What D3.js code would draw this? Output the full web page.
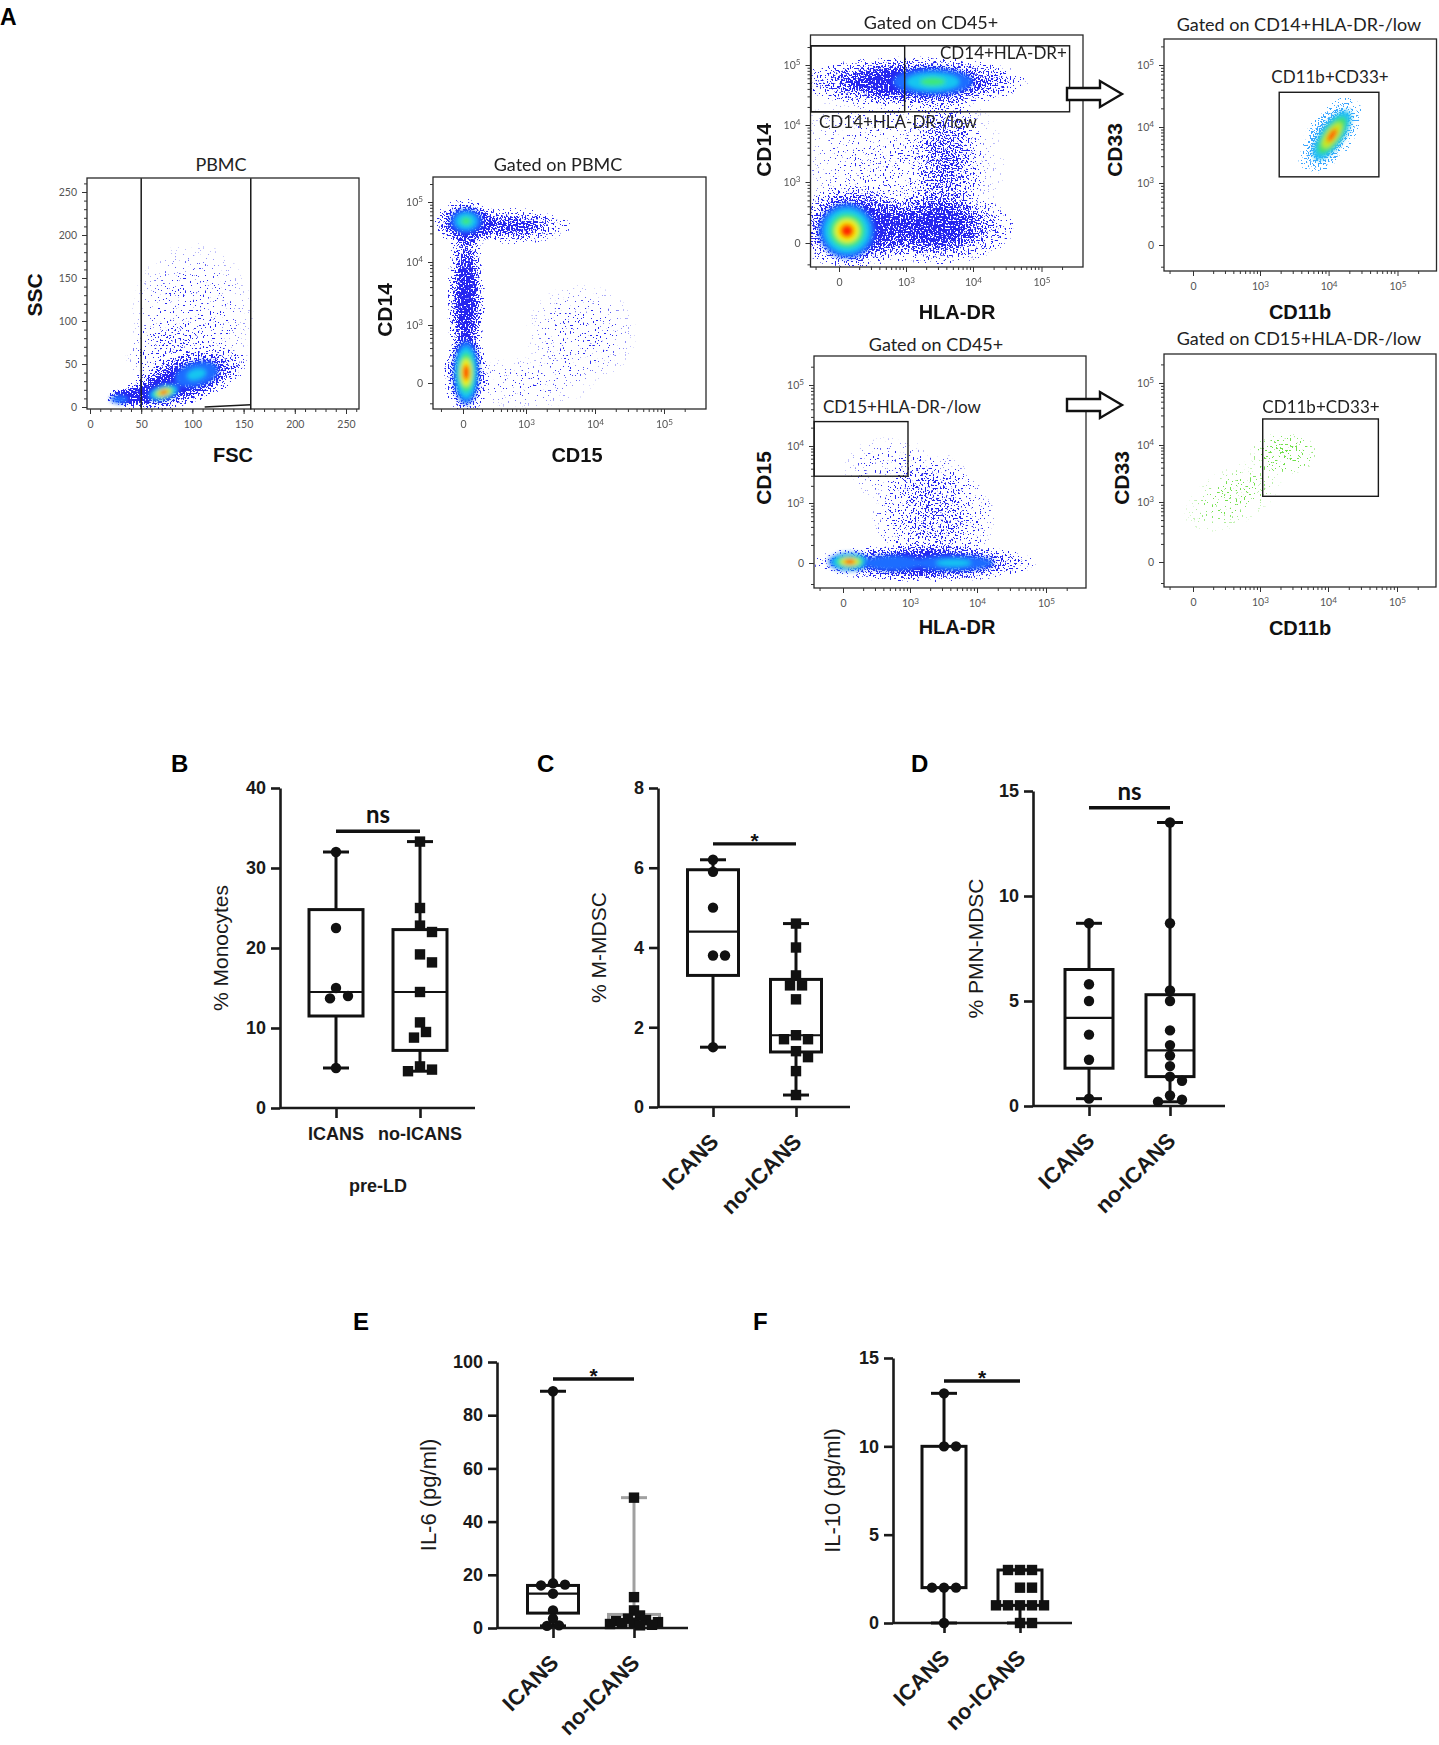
<!DOCTYPE html>
<html>
<head>
<meta charset="utf-8">
<title>MDSC gating and ICANS</title>
<script src="https://cdn.jsdelivr.net/npm/d3@7"></script>
<style>
  body { margin: 0; background: #fff; }
  svg { display: block; }
  .sans { font-family: "Liberation Sans", Arial, sans-serif; }
  .lato { font-family: Lato, "Liberation Sans", sans-serif; }
  .faxis text { font-family: Lato, "Liberation Sans", sans-serif; font-size: 10.5px; fill: #555; }
  .faxis line { stroke: #333; stroke-width: 1; }
  .baxis text { font-family: "Liberation Sans", Arial, sans-serif; font-size: 18px; font-weight: bold; fill: #1a1a1a; }
  .baxis line, .baxis path { stroke: #1a1a1a; stroke-width: 2.6; }
</style>
</head>
<body>
<div id="fig"></div>
<script>
// ---------- data: box plots (B-F) ----------
var groups = ["ICANS", "no-ICANS"];

// B: % monocytes, pre-LD
var monoIcans = [32, 22.5, 15, 14, 13.7, 5];
var monoNoIcans = [33.3, 25, 22.8, 22, 19.2, 18.2, 14.5, 10.7, 9.5, 8.8, 5.2, 4.8, 4.6];
// box stats: min, q1, median, q3, max
var monoBoxIcans = [5, 11.5, 14.5, 24.8, 32];
var monoBoxNoIcans = [4.6, 7.2, 14.5, 22.3, 33.3];
var monoTicks = [0, 10, 20, 30, 40];

// C: % M-MDSC
var mmdscIcans = [6.2, 5.9, 5.0, 3.8, 3.8, 1.5];
var mmdscNoIcans = [4.6, 4.0, 3.3, 3.05, 3.05, 2.7, 1.8, 1.7, 1.7, 1.4, 1.25, 0.9, 0.3];
var mmdscBoxIcans = [1.5, 3.3, 4.4, 5.95, 6.2];
var mmdscBoxNoIcans = [0.3, 1.38, 1.8, 3.2, 4.6];
var mmdscTicks = [0, 2, 4, 6, 8];

// D: % PMN-MDSC
var pmnIcans = [8.7, 5.8, 5.0, 3.4, 2.2, 0.35];
var pmnNoIcans = [13.5, 8.7, 5.5, 5.0, 3.6, 2.9, 2.4, 1.9, 1.4, 1.2, 0.5, 0.3, 0.2];
var pmnBoxIcans = [0.35, 1.8, 4.2, 6.5, 8.7];
var pmnBoxNoIcans = [0.2, 1.4, 2.65, 5.3, 13.5];
var pmnTicks = [0, 5, 10, 15];

// E: IL-6 (pg/ml)
var il6Icans = [89, 16.8, 16.3, 16, 12.9, 6.6, 3.5, 1, 0.8];
var il6NoIcans = [49, 11.6, 6.6, 4.7, 3.5, 3, 2.6, 2.2, 2, 1.8, 1.5, 1.2, 1];
var il6BoxIcans = [0.8, 5.6, 12.9, 16, 89];
var il6BoxNoIcans = [1, 1.8, 2.6, 5.1, 49];
var il6Ticks = [0, 20, 40, 60, 80, 100];

// F: IL-10 (pg/ml)
var il10Icans = [13, 10, 10, 2, 2, 2, 0];
var il10NoIcans = [3, 3, 3, 2, 2, 1, 1, 1, 1, 1, 0, 0];
var il10BoxIcans = [0, 2, 2, 10, 13];
var il10BoxNoIcans = [0, 1, 1, 3, 3];
var il10Ticks = [0, 5, 10, 15];

// comparison bars: [height in axis units, label]
var sigB = [34.6, "ns"];
var sigC = [6.6, "*"];
var sigD = [14.2, "ns"];
var sigE = [93.6, "*"];
var sigF = [13.7, "*"];

// ---------- data: flow cytometry (A) ----------
var linTicks = [0, 50, 100, 150, 200, 250];
var logTicks = [0, 1, 2, 3];               // 0, 10^3, 10^4, 10^5 (display decades)
var logTickLabels = ["0", "10^3", "10^4", "10^5"];

// clouds: [x, y, spreadX, spreadY, tilt, density]   (axis units)
var pbmcClouds = [
  [90, 30, 66, 29, -18, 1],
  [100, 100, 60, 92, 0, 0.15],
  [80, 60, 45, 40, 0, 0.2],
  [34, 12, 19, 11, 0, 0.95],
  [56, 16, 30, 13, -10, 0.85]
];
// cores: [x, y, spreadX, spreadY, tilt, colour levels]
var pbmcCores = [
  [72, 17, 16, 9, -15, 5],
  [104, 38, 22, 14, -15, 2],
  [29, 9, 9, 5, 0, 1]
];

var cd14cd15Clouds = [
  [0.05, 2.65, 0.5, 0.4, 0, 1],
  [0.8, 2.6, 0.85, 0.3, 0, 0.7],
  [0.05, 1.4, 0.3, 1.35, 0, 0.95],
  [0.05, 0.15, 0.35, 0.7, 0, 1],
  [1.8, 0.85, 0.8, 0.8, 0, 0.14],
  [0.9, 0.0, 1.1, 0.45, 0, 0.1]
];
var cd14cd15Cores = [
  [0.05, 2.68, 0.25, 0.2, 0, 3],
  [0.05, 0.18, 0.2, 0.55, 0, 5]
];

var cd14drClouds = [
  [1.1, 2.72, 1.7, 0.42, 0, 1],
  [0.2, 0.25, 0.85, 0.7, 0, 1],
  [1.4, 0.25, 1.2, 0.6, 0, 0.85],
  [1.6, 1.4, 0.55, 1.25, 0, 0.48],
  [0.9, 1.3, 1.6, 1.5, 0, 0.15]
];
var cd14drCores = [
  [1.4, 2.72, 0.6, 0.22, 0, 3],
  [0.12, 0.2, 0.42, 0.45, 0, 5]
];
var cd14drGates = [[-0.42, 2.22, 3.41, 3.32], [-0.42, 2.22, 0.98, 3.32]];

var mMdscClouds = [[2.02, 1.85, 0.65, 0.38, -55, 0.9]];
var mMdscCores = [[2.05, 1.85, 0.42, 0.2, -55, 4]];
var mMdscGates = [[1.28, 1.11, 2.73, 2.56]];

var cd15drClouds = [
  [1.2, 0.0, 1.65, 0.32, 0, 1],
  [1.35, 0.75, 0.9, 0.9, 0, 0.4],
  [1.3, 1.4, 0.6, 0.5, 0, 0.2],
  [0.7, 1.6, 0.7, 0.55, 0, 0.14]
];
var cd15drCores = [
  [0.1, 0.02, 0.32, 0.15, 0, 5],
  [1.65, 0.0, 0.6, 0.13, 0, 2],
  [0.75, 0.0, 0.45, 0.13, 0, 1]
];
var cd15drGates = [[-0.43, 1.47, 0.97, 2.40]];

var pmnClouds = [
  [1.35, 1.85, 0.5, 0.35, 0, 0.24],
  [0.6, 1.1, 0.8, 0.5, -30, 0.12]
];
var pmnGates = [[1.04, 1.1, 2.73, 2.42]];

// ---------- drawing ----------
var W = 1439, H = 1745;
var svg = d3.select("#fig").append("svg").attr("width", W).attr("height", H);
var defs = svg.append("defs");

var grad = defs.append("radialGradient").attr("id", "cloudGrad");
[[0, 1], [0.35, 0.85], [0.7, 0.45], [1, 0.08]].forEach(function (s) {
  grad.append("stop").attr("offset", s[0]).attr("stop-color", "#fff").attr("stop-opacity", s[1]);
});

defs.append("filter").attr("id", "coreBlur")
  .attr("x", "-50%").attr("y", "-50%").attr("width", "200%").attr("height", "200%")
  .append("feGaussianBlur").attr("stdDeviation", 2.2);

// speckle filter: dots get sparser where the cloud is thin
function dotFilter(id, colour, freq, seed) {
  var f = defs.append("filter").attr("id", id).attr("filterUnits", "userSpaceOnUse")
    .attr("x", 0).attr("y", 0).attr("width", W).attr("height", 700);
  f.append("feTurbulence").attr("type", "fractalNoise").attr("baseFrequency", freq)
    .attr("numOctaves", 1).attr("seed", seed).attr("result", "noise");
  f.append("feColorMatrix").attr("in", "noise").attr("type", "matrix")
    .attr("values", "0 0 0 0 0  0 0 0 0 0  0 0 0 0 0  2.5 0 0 0 -0.75").attr("result", "na");
  f.append("feComposite").attr("in", "SourceAlpha").attr("in2", "na").attr("operator", "arithmetic")
    .attr("k1", 0).attr("k2", 12).attr("k3", 12).attr("k4", -12).attr("result", "mask");
  f.append("feFlood").attr("flood-color", colour).attr("result", "c");
  f.append("feComposite").attr("in", "c").attr("in2", "mask").attr("operator", "in");
}
dotFilter("dotsBlue", "#2626f0", 0.6, 3);
dotFilter("dotsCyan", "#3aa6ff", 0.6, 5);
dotFilter("dotsGreen", "#72e04c", 0.5, 8);

var bluePalette = ["#1f6dff", "#12c6f0", "#3ce878", "#f2f000", "#ff2a00"];
var cyanPalette = ["#22c0f4", "#3ce070", "#c8e81c", "#ff5a00"];

function supLabel(sel, labels) {
  sel.selectAll(".tick text").each(function (d, i) {
    var s = labels[i];
    var t = d3.select(this).text("");
    if (s.indexOf("^") > 0) {
      var parts = s.split("^");
      t.append("tspan").text(parts[0]);
      t.append("tspan").attr("dy", "-0.45em").attr("font-size", "78%").text(parts[1]);
    } else {
      t.text(s);
    }
  });
}

var clipCount = 0;
function flowPlot(p) {
  var g = svg.append("g");
  var x = d3.scaleLinear().domain(p.xd).range(p.xr);
  var y = d3.scaleLinear().domain(p.yd).range(p.yr);
  var f = p.frame;
  var cid = "clip" + (clipCount++);
  defs.append("clipPath").attr("id", cid).append("rect")
    .attr("x", f[0]).attr("y", f[1]).attr("width", f[2] - f[0]).attr("height", f[3] - f[1]);

  function place(d) {
    return "translate(" + x(d[0]) + "," + y(d[1]) + ") rotate(" + d[4] + ")";
  }
  function rx(d) { return Math.abs(x(d[0] + d[2]) - x(d[0])); }
  function ry(d) { return Math.abs(y(d[1] + d[3]) - y(d[1])); }

  var plot = g.append("g").attr("clip-path", "url(#" + cid + ")");
  plot.append("g").attr("filter", "url(#" + p.dots + ")")
    .selectAll("ellipse").data(p.clouds).join("ellipse")
    .attr("rx", rx).attr("ry", ry).attr("transform", place)
    .attr("fill", "url(#cloudGrad)").attr("fill-opacity", function (d) { return d[5]; });

  var coreG = plot.append("g").attr("filter", "url(#coreBlur)");
  (p.cores || []).forEach(function (c) {
    var n = c[5];
    for (var j = 0; j < n; j++) {
      var k = 1 - 0.85 * j / (n - 0.5);
      coreG.append("ellipse").attr("rx", rx(c) * k).attr("ry", ry(c) * k)
        .attr("transform", place(c)).attr("fill", p.palette[j]);
    }
  });

  g.append("rect").attr("x", f[0]).attr("y", f[1]).attr("width", f[2] - f[0]).attr("height", f[3] - f[1])
    .attr("fill", "none").attr("stroke", "#2a2a2a").attr("stroke-width", 1.3);

  var xa = g.append("g").attr("class", "faxis").attr("transform", "translate(0," + f[3] + ")")
    .call(d3.axisBottom(x).tickValues(p.xTicks).tickSize(5).tickPadding(7));
  xa.select(".domain").remove();
  var ya = g.append("g").attr("class", "faxis").attr("transform", "translate(" + f[0] + ",0)")
    .call(d3.axisLeft(y).tickValues(p.yTicks).tickSize(5).tickPadding(5));
  ya.select(".domain").remove();
  supLabel(xa, p.xLabels);
  supLabel(ya, p.yLabels);
  g.append("g").attr("class", "faxis").attr("transform", "translate(0," + f[3] + ")")
    .call(d3.axisBottom(x).tickValues(p.xMinor.filter(function (v) { return x(v) > f[0] && x(v) < f[2]; }))
      .tickSize(3).tickFormat("")).select(".domain").remove();
  g.append("g").attr("class", "faxis").attr("transform", "translate(" + f[0] + ",0)")
    .call(d3.axisLeft(y).tickValues(p.yMinor.filter(function (v) { return y(v) < f[3] && y(v) > f[1]; }))
      .tickSize(3).tickFormat("")).select(".domain").remove();

  (p.gates || []).forEach(function (r) {
    g.append("rect").attr("x", x(r[0])).attr("y", y(r[3]))
      .attr("width", x(r[2]) - x(r[0])).attr("height", y(r[1]) - y(r[3]))
      .attr("fill", "none").attr("stroke", "#1a1a1a").attr("stroke-width", 1.4);
  });
  (p.lines || []).forEach(function (l) {
    g.append("line").attr("x1", x(l[0])).attr("y1", y(l[1])).attr("x2", x(l[2])).attr("y2", y(l[3]))
      .attr("stroke", "#1a1a1a").attr("stroke-width", 1.5);
  });

  g.append("text").attr("class", "lato").attr("x", p.title[1]).attr("y", p.title[2])
    .attr("text-anchor", "middle").attr("font-size", 18).attr("fill", "#222").text(p.title[0]);
  g.append("text").attr("class", "sans").attr("x", p.xTitle[1]).attr("y", p.xTitle[2])
    .attr("text-anchor", "middle").attr("font-size", 20).attr("font-weight", "bold").attr("fill", "#111").text(p.xTitle[0]);
  g.append("text").attr("class", "sans").attr("transform", "translate(" + p.yTitle[1] + "," + p.yTitle[2] + ") rotate(-90)")
    .attr("text-anchor", "middle").attr("font-size", 21).attr("font-weight", "bold").attr("fill", "#111").text(p.yTitle[0]);
  (p.notes || []).forEach(function (n) {
    g.append("text").attr("class", "lato").attr("x", n[1]).attr("y", n[2]).attr("text-anchor", n[3])
      .attr("font-size", 17).attr("fill", "#222").text(n[0]);
  });
}

var linMinor = d3.range(0, 270, 10);
var logMinor = [-0.35, 3.3];
[0, 1, 2].forEach(function (d) {
  d3.range(2, 10).forEach(function (k) { logMinor.push(d + Math.log10(k)); });
});

svg.append("text").attr("class", "sans").attr("x", 0).attr("y", 25)
  .attr("font-size", 23).attr("font-weight", "bold").text("A");

flowPlot({
  frame: [87, 178, 359, 409], xd: [0, 250], xr: [90, 346], yd: [0, 250], yr: [407, 192],
  xTicks: linTicks, yTicks: linTicks, xLabels: linTicks.map(String), yLabels: linTicks.map(String),
  xMinor: linMinor, yMinor: linMinor,
  clouds: pbmcClouds, cores: pbmcCores, palette: bluePalette, dots: "dotsBlue",
  lines: [[50, -3, 50, 266], [157, -3, 157, 266], [112, 0, 157, 2.5]],
  title: ["PBMC", 221, 171], xTitle: ["FSC", 233, 462], yTitle: ["SSC", 42, 295]
});

flowPlot({
  frame: [433, 177, 706, 409], xd: logTicks, xr: [463, 526, 595, 664], yd: logTicks, yr: [383, 325, 262, 202],
  xTicks: logTicks, yTicks: logTicks, xLabels: logTickLabels, yLabels: logTickLabels,
  xMinor: logMinor, yMinor: logMinor,
  clouds: cd14cd15Clouds, cores: cd14cd15Cores, palette: bluePalette, dots: "dotsBlue",
  title: ["Gated on PBMC", 558, 171], xTitle: ["CD15", 577, 462], yTitle: ["CD14", 392, 310]
});

flowPlot({
  frame: [810.5, 35, 1083, 267], xd: logTicks, xr: [839, 906, 973, 1041.5], yd: logTicks, yr: [243, 182, 125, 65],
  xTicks: logTicks, yTicks: logTicks, xLabels: logTickLabels, yLabels: logTickLabels,
  xMinor: logMinor, yMinor: logMinor,
  clouds: cd14drClouds, cores: cd14drCores, palette: bluePalette, dots: "dotsBlue", gates: cd14drGates,
  title: ["Gated on CD45+", 931, 29], xTitle: ["HLA-DR", 957, 319], yTitle: ["CD14", 771, 150],
  notes: [["CD14+HLA-DR+", 940, 59, "start"], ["CD14+HLA-DR-/low", 819, 128, "start"]]
});

flowPlot({
  frame: [1164, 39, 1436.5, 271], xd: logTicks, xr: [1193, 1260, 1328.6, 1397.5], yd: logTicks, yr: [245, 183, 127, 65],
  xTicks: logTicks, yTicks: logTicks, xLabels: logTickLabels, yLabels: logTickLabels,
  xMinor: logMinor, yMinor: logMinor,
  clouds: mMdscClouds, cores: mMdscCores, palette: cyanPalette, dots: "dotsCyan", gates: mMdscGates,
  title: ["Gated on CD14+HLA-DR-/low", 1299, 31], xTitle: ["CD11b", 1300, 319], yTitle: ["CD33", 1122, 150],
  notes: [["CD11b+CD33+", 1330, 83, "middle"]]
});

flowPlot({
  frame: [814, 356, 1086, 588], xd: logTicks, xr: [843, 910, 977, 1046], yd: logTicks, yr: [563, 503, 446, 385],
  xTicks: logTicks, yTicks: logTicks, xLabels: logTickLabels, yLabels: logTickLabels,
  xMinor: logMinor, yMinor: logMinor,
  clouds: cd15drClouds, cores: cd15drCores, palette: bluePalette, dots: "dotsBlue", gates: cd15drGates,
  title: ["Gated on CD45+", 936, 351], xTitle: ["HLA-DR", 957, 634], yTitle: ["CD15", 771, 478],
  notes: [["CD15+HLA-DR-/low", 823, 413, "start"]]
});

flowPlot({
  frame: [1164, 354, 1436, 587], xd: logTicks, xr: [1193, 1260, 1328, 1397], yd: logTicks, yr: [562, 502, 445, 383],
  xTicks: logTicks, yTicks: logTicks, xLabels: logTickLabels, yLabels: logTickLabels,
  xMinor: logMinor, yMinor: logMinor,
  clouds: pmnClouds, cores: [], palette: cyanPalette, dots: "dotsGreen", gates: pmnGates,
  title: ["Gated on CD15+HLA-DR-/low", 1299, 345], xTitle: ["CD11b", 1300, 635], yTitle: ["CD33", 1129, 478],
  notes: [["CD11b+CD33+", 1321, 413, "middle"]]
});

// block arrows between gating steps
[94, 405].forEach(function (cy) {
  var x0 = 1067, xh = 1100, x1 = 1122, sh = 6, hh = 13;
  svg.append("path")
    .attr("d", "M" + x0 + "," + (cy - sh) + "H" + xh + "V" + (cy - hh) + "L" + x1 + "," + cy +
      "L" + xh + "," + (cy + hh) + "V" + (cy + sh) + "H" + x0 + "Z")
    .attr("fill", "#fff").attr("stroke", "#111").attr("stroke-width", 2.4).attr("stroke-linejoin", "miter");
});

// ---------- box plots ----------
// simple beeswarm: spread tied values sideways, allow overlap beyond maxOff
function swarm(values, y, diam, step, maxOff) {
  var placed = [];
  values.slice().sort(function (a, b) { return b - a; }).forEach(function (v) {
    var py = y(v), best = 0, bestD = -1;
    for (var k = 0; k < 60; k++) {
      var off = (k % 2 ? 1 : -1) * Math.ceil(k / 2) * step;
      if (Math.abs(off) > maxOff) break;
      var dmin = placed.length ? d3.min(placed, function (q) { return Math.hypot(q.dx - off, q.py - py); }) : Infinity;
      if (dmin >= diam) { best = off; break; }
      if (dmin > bestD) { bestD = dmin; best = off; }
    }
    placed.push({ v: v, py: py, dx: best });
  });
  return placed;
}

function boxPlot(p) {
  var g = svg.append("g");
  var y = d3.scaleLinear().domain([0, p.yMax]).range([p.y0, p.yTop]);
  var x = d3.scalePoint().domain(groups).range(p.cats);

  g.append("g").attr("class", "baxis").attr("transform", "translate(" + p.ax + ",0)")
    .call(d3.axisLeft(y).tickValues(p.ticks).tickSize(9).tickSizeOuter(0).tickPadding(5));
  var xa = g.append("g").attr("class", "baxis").attr("transform", "translate(0," + p.y0 + ")")
    .call(d3.axisBottom(x).tickSize(10).tickSizeOuter(0).tickFormat(""));
  xa.select(".domain").attr("d", "M" + p.ax + ",0H" + p.xEnd);

  groups.forEach(function (gr, i) {
    var b = p.boxes[i], cx = x(gr), hw = p.bw / 2;
    var col = (p.greyNo && i === 1) ? "#a0a0a0" : "#111";
    var sw = 3;
    [[b[0], b[1]], [b[3], b[4]]].forEach(function (seg) {
      g.append("line").attr("x1", cx).attr("x2", cx).attr("y1", y(seg[0])).attr("y2", y(seg[1]))
        .attr("stroke", col).attr("stroke-width", sw);
    });
    [b[0], b[4]].forEach(function (v) {
      g.append("line").attr("x1", cx - 13).attr("x2", cx + 13).attr("y1", y(v)).attr("y2", y(v))
        .attr("stroke", col).attr("stroke-width", sw);
    });
    g.append("rect").attr("x", cx - hw).attr("y", y(b[3])).attr("width", p.bw).attr("height", y(b[1]) - y(b[3]))
      .attr("fill", "none").attr("stroke", col).attr("stroke-width", sw);
    g.append("line").attr("x1", cx - hw).attr("x2", cx + hw).attr("y1", y(b[2])).attr("y2", y(b[2]))
      .attr("stroke", col).attr("stroke-width", 2.2);

    var pts = swarm(p.pts[i], y, p.collide || 10.5, 6, hw + 2);
    if (p.shapes[i] === "circle") {
      g.selectAll(null).data(pts).join("circle")
        .attr("cx", function (d) { return cx + d.dx; }).attr("cy", function (d) { return d.py; })
        .attr("r", 5.2).attr("fill", "#111");
    } else {
      g.selectAll(null).data(pts).join("rect")
        .attr("x", function (d) { return cx + d.dx - 5.2; }).attr("y", function (d) { return d.py - 5.2; })
        .attr("width", 10.4).attr("height", 10.4).attr("fill", "#111");
    }
  });

  // significance bar
  var sy = y(p.sig[0]);
  g.append("line").attr("x1", p.cats[0]).attr("x2", p.cats[1]).attr("y1", sy).attr("y2", sy)
    .attr("stroke", "#111").attr("stroke-width", 3.4);
  var mid = (p.cats[0] + p.cats[1]) / 2;
  if (p.sig[1] === "ns") {
    g.append("text").attr("class", "lato").attr("x", mid).attr("y", sy - 8).attr("text-anchor", "middle")
      .attr("font-size", 24).attr("font-weight", "bold").attr("fill", "#111").text("ns");
  } else {
    g.append("text").attr("class", "sans").attr("x", mid).attr("y", sy + 4).attr("text-anchor", "middle")
      .attr("font-size", 21).attr("font-weight", "bold").attr("fill", "#111").text("*");
  }

  // axis title
  g.append("text").attr("class", "sans")
    .attr("transform", "translate(" + p.ylx + "," + ((p.y0 + p.yTop) / 2) + ") rotate(-90)")
    .attr("text-anchor", "middle").attr("font-size", p.ylSize).attr("fill", "#1a1a1a").text(p.ylabel);

  // category labels
  groups.forEach(function (gr) {
    if (p.rotated) {
      g.append("text").attr("class", "sans")
        .attr("transform", "translate(" + (x(gr) + 7) + "," + (p.y0 + 36) + ") rotate(-45)")
        .attr("text-anchor", "end").attr("font-size", 22).attr("font-weight", "bold").attr("fill", "#1a1a1a").text(gr);
    } else {
      g.append("text").attr("class", "sans").attr("x", x(gr)).attr("y", p.y0 + 32)
        .attr("text-anchor", "middle").attr("font-size", 18).attr("font-weight", "bold").attr("fill", "#1a1a1a").text(gr);
    }
  });
  if (p.footer) {
    g.append("text").attr("class", "sans").attr("x", (p.cats[0] + p.cats[1]) / 2).attr("y", p.y0 + 84)
      .attr("text-anchor", "middle").attr("font-size", 18).attr("font-weight", "bold").attr("fill", "#1a1a1a").text(p.footer);
  }

  svg.append("text").attr("class", "sans").attr("x", p.lx).attr("y", p.ly)
    .attr("font-size", 24).attr("font-weight", "bold").text(p.letter);
}

boxPlot({ letter: "B", lx: 171, ly: 772, ax: 280, y0: 1108, yTop: 788, yMax: 40, ticks: monoTicks,
  xEnd: 475, cats: [336, 420], bw: 54, boxes: [monoBoxIcans, monoBoxNoIcans], pts: [monoIcans, monoNoIcans],
  shapes: ["circle", "square"], sig: sigB, ylabel: "% Monocytes", ylx: 228, ylSize: 21, rotated: false, footer: "pre-LD" });

boxPlot({ letter: "C", lx: 537, ly: 772, ax: 658, y0: 1107, yTop: 788, yMax: 8, ticks: mmdscTicks,
  xEnd: 850, cats: [713, 796], bw: 51, boxes: [mmdscBoxIcans, mmdscBoxNoIcans], pts: [mmdscIcans, mmdscNoIcans],
  shapes: ["circle", "square"], sig: sigC, ylabel: "% M-MDSC", ylx: 606, ylSize: 21, rotated: true });

boxPlot({ letter: "D", lx: 911, ly: 772, ax: 1033, y0: 1106, yTop: 791, yMax: 15, ticks: pmnTicks,
  xEnd: 1225, cats: [1089, 1170], bw: 48, boxes: [pmnBoxIcans, pmnBoxNoIcans], pts: [pmnIcans, pmnNoIcans],
  shapes: ["circle", "circle"], sig: sigD, ylabel: "% PMN-MDSC", ylx: 983, ylSize: 21, rotated: true });

boxPlot({ letter: "E", lx: 353, ly: 1330, ax: 497, y0: 1628, yTop: 1362, yMax: 100, ticks: il6Ticks,
  xEnd: 688, cats: [553, 634], bw: 51, boxes: [il6BoxIcans, il6BoxNoIcans], pts: [il6Icans, il6NoIcans],
  shapes: ["circle", "square"], sig: sigE, ylabel: "IL-6 (pg/ml)", ylx: 436, ylSize: 22, rotated: true,
  greyNo: true, collide: 7 });

boxPlot({ letter: "F", lx: 753, ly: 1330, ax: 893, y0: 1623, yTop: 1358, yMax: 15, ticks: il10Ticks,
  xEnd: 1072, cats: [944, 1020], bw: 44, boxes: [il10BoxIcans, il10BoxNoIcans], pts: [il10Icans, il10NoIcans],
  shapes: ["circle", "square"], sig: sigF, ylabel: "IL-10 (pg/ml)", ylx: 840, ylSize: 22, rotated: true });
</script>
</body>
</html>
